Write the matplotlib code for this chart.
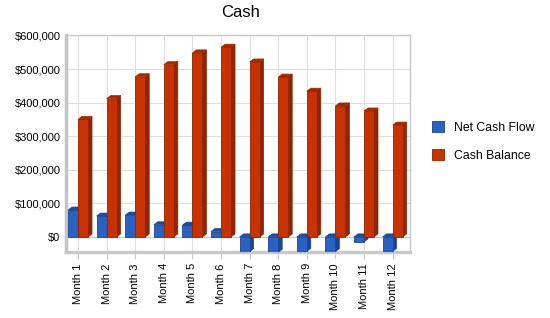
import numpy as np
import matplotlib
matplotlib.use("Agg")
import matplotlib.pyplot as plt
from matplotlib.patches import Polygon, Patch
from matplotlib.ticker import FuncFormatter

###############################################
# Data
###############################################

months = ["Month 1", "Month 2", "Month 3", "Month 4", "Month 5", "Month 6",
          "Month 7", "Month 8", "Month 9", "Month 10", "Month 11", "Month 12"]
net_cash_flow = [80000, 62000, 65000, 36000, 35000, 16000,
                 -44000, -46000, -43000, -44000, -15000, -43000]
cash_balance = [350000, 412000, 477000, 513000, 548000, 565000,
                521000, 476000, 434000, 390000, 375000, 333000]

###############################################
# Style
###############################################

BLUE = ("#2a62c4", "#1d4b9c", "#1a4590")      # front, top, side
RED = ("#c83200", "#a52a00", "#8f2400")
WIDTH = 0.35
DX = 0.14        # depth offset in category units
DY = 9000        # depth offset in value units

plt.rcParams["font.family"] = ["Liberation Sans", "DejaVu Sans"]


def bar3d(ax, x, v, colors):
    front, top, side = colors
    x0, x1 = x - WIDTH / 2, x + WIDTH / 2
    lo, hi = min(0, v), max(0, v)
    ax.add_patch(Polygon([(x1, lo), (x1, hi), (x1 + DX, hi + DY), (x1 + DX, lo + DY)],
                         closed=True, facecolor=side, edgecolor=side, lw=0.5, zorder=3))
    ax.add_patch(Polygon([(x0, hi), (x1, hi), (x1 + DX, hi + DY), (x0 + DX, hi + DY)],
                         closed=True, facecolor=top, edgecolor=top, lw=0.5, zorder=3))
    ax.bar(x, v, width=WIDTH, color=front, edgecolor=side, linewidth=0.6, zorder=3)


###############################################
# Plot
###############################################

fig = plt.figure(figsize=(5.5, 3.18), dpi=100)
ax = fig.add_axes([0.12, 0.2075, 0.625, 0.681])

x = np.arange(len(months))
for i in x:
    bar3d(ax, i - WIDTH / 2, net_cash_flow[i], BLUE)
for i in x:
    bar3d(ax, i + WIDTH / 2, cash_balance[i], RED)

ax.set_xlim(-0.42, 11.6)
ax.set_ylim(-45000, 600000)
ax.set_yticks(np.arange(0, 600001, 100000))
ax.yaxis.set_major_formatter(FuncFormatter(lambda v, p: f"${v:,.0f}"))
ax.set_xticks(x)
ax.set_xticklabels(months, rotation=90)
ax.tick_params(axis="y", length=0, labelsize=8, pad=4)
ax.tick_params(axis="x", length=5, color="#c8c8c8", labelsize=8, pad=3)

ax.grid(True, color="#dedede", linewidth=0.8, zorder=0)
ax.axhline(0, color="#c8c8c8", linewidth=0.8, zorder=1)
ax.set_axisbelow(True)
for s in ["top", "right"]:
    ax.spines[s].set_color("#c8c8c8")
    ax.spines[s].set_linewidth(1)
ax.spines["left"].set_color("#c4c4c4")
ax.spines["left"].set_linewidth(2.5)
ax.spines["bottom"].set_color("#c8c8c8")
ax.spines["bottom"].set_linewidth(2.5)

fig.text(0.437, 0.96, "Cash", ha="center", va="center", fontsize=12)

handles = [Patch(facecolor=BLUE[0], edgecolor=BLUE[2], lw=0.6),
           Patch(facecolor=RED[0], edgecolor=RED[2], lw=0.6)]
fig.legend(handles, ["Net Cash Flow", "Cash Balance"], loc="center left",
           bbox_to_anchor=(0.765, 0.555), frameon=False, fontsize=8.8,
           handlelength=1.0, handleheight=1.0, labelspacing=1.25, handletextpad=0.8)

fig.savefig("out.png", dpi=100)
